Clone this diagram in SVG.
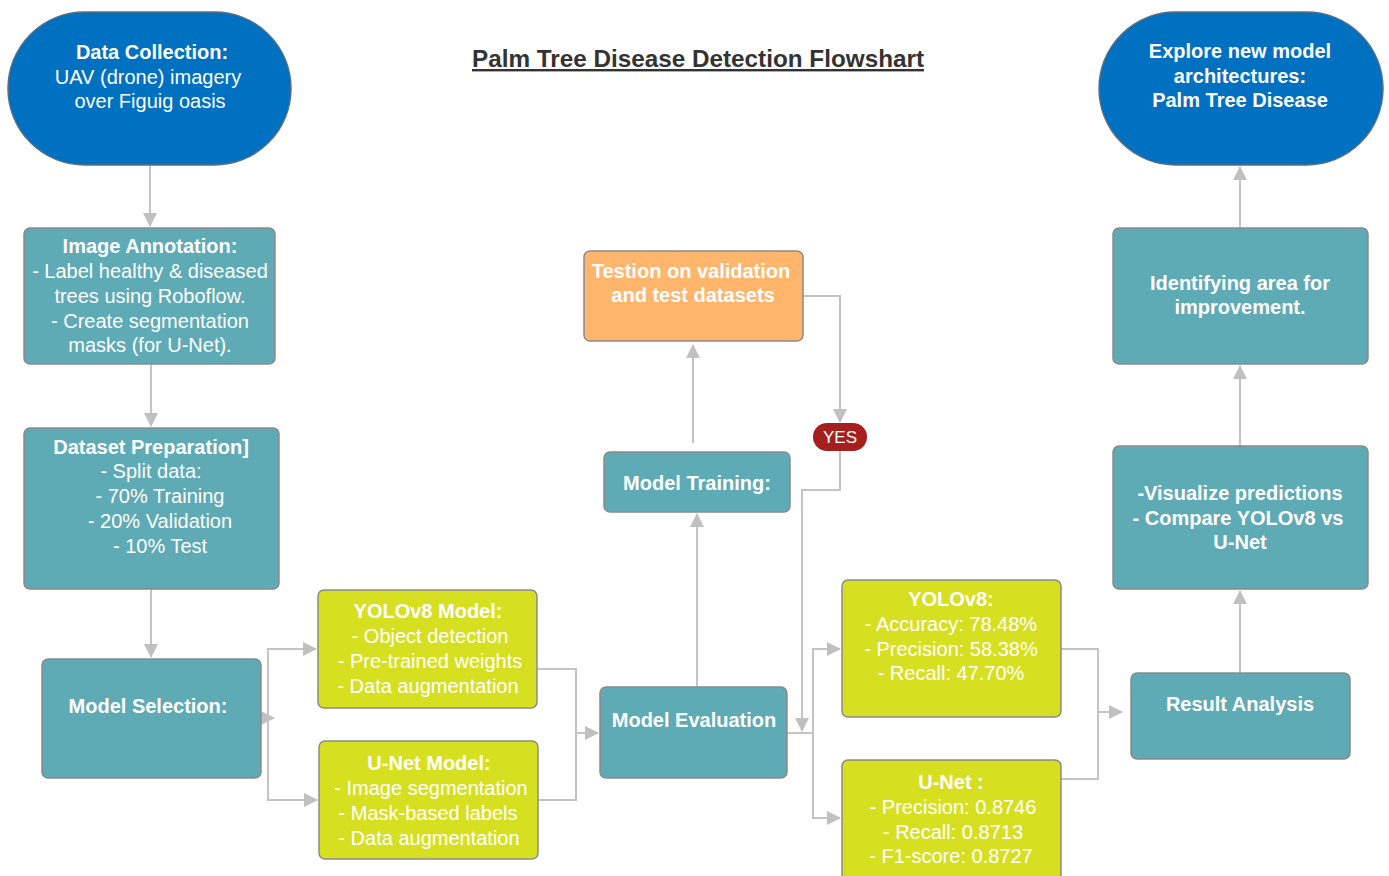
<svg xmlns="http://www.w3.org/2000/svg" width="1389" height="876" viewBox="0 0 1389 876">
<defs>
<marker id="ah" markerWidth="10" markerHeight="10" refX="9" refY="5" orient="auto" markerUnits="userSpaceOnUse" viewBox="0 0 10 10">
<path d="M0,0 L10,5 L0,10 z" fill="#c0c0c0"/>
</marker>
<marker id="ahL" markerWidth="14" markerHeight="14" refX="13" refY="7" orient="auto" markerUnits="userSpaceOnUse" viewBox="0 0 14 14">
<path d="M0,0 L14,7 L0,14 z" fill="#c0c0c0"/>
</marker>
</defs>
<style>
.pill{fill:#0070c0;stroke:#5a6f80;stroke-width:1.5}
.teal{fill:#5eaab5;stroke:#8a8a8a;stroke-width:1.5}
.yel{fill:#d6e021;stroke:#8a8a8a;stroke-width:1.5}
.org{fill:#ffb66c;stroke:#8a8a8a;stroke-width:1.5}
text{font-family:"Liberation Sans",Arial,sans-serif;font-size:20px;fill:#ffffff;text-anchor:middle}
.b{font-weight:bold}
.c{stroke:#c4c4c4;stroke-width:2;fill:none}
.title{fill:#333333;font-size:24px;font-weight:bold;text-decoration:underline}
</style>
<rect width="1389" height="876" fill="#ffffff"/>
<text class="title" x="698" y="67" textLength="452" lengthAdjust="spacingAndGlyphs">Palm Tree Disease Detection Flowshart</text>

<g id="connectors">
<path class="c" d="M150,165 V226" marker-end="url(#ahL)"/>
<path class="c" d="M151,364 V426" marker-end="url(#ahL)"/>
<path class="c" d="M151,589 V657" marker-end="url(#ahL)"/>
<path class="c" d="M261,718 H274" marker-end="url(#ahL)"/>
<path class="c" d="M268,718 V649 H316" marker-end="url(#ahL)"/>
<path class="c" d="M268,718 V800 H317" marker-end="url(#ahL)"/>
<path class="c" d="M537,669 H576 V800 H538"/>
<path class="c" d="M576,733 H598" marker-end="url(#ahL)"/>
<path class="c" d="M697,687 V514" marker-end="url(#ahL)"/>
<path class="c" d="M693,443 V345" marker-end="url(#ahL)"/>
<path class="c" d="M803,296 H840 V422" marker-end="url(#ahL)"/>
<path class="c" d="M840,451 V490 H802 V731" marker-end="url(#ahL)"/>
<path class="c" d="M787,733 H813"/>
<path class="c" d="M813,733 V649 H840" marker-end="url(#ahL)"/>
<path class="c" d="M813,733 V818 H840" marker-end="url(#ahL)"/>
<path class="c" d="M1061,649 H1098 V779 H1061"/>
<path class="c" d="M1098,712 H1122" marker-end="url(#ahL)"/>
<path class="c" d="M1240,673 V591" marker-end="url(#ahL)"/>
<path class="c" d="M1240,446 V366" marker-end="url(#ahL)"/>
<path class="c" d="M1240,228 V167" marker-end="url(#ahL)"/>
</g>

<g id="data-collection">
<rect class="pill" x="8" y="12" width="283" height="153" rx="76.5" ry="76.5"/>
<text class="b" x="152" y="59">Data Collection:</text>
<text x="148" y="84">UAV (drone) imagery</text>
<text x="150" y="108">over Figuig oasis</text>
</g>

<g id="explore">
<rect class="pill" x="1099" y="12" width="284" height="153" rx="76.5" ry="76.5"/>
<text class="b" x="1240" y="58">Explore new model</text>
<text class="b" x="1240" y="83">architectures:</text>
<text class="b" x="1240" y="107">Palm Tree Disease</text>
</g>

<g id="image-annotation">
<rect class="teal" x="24" y="228" width="251" height="136" rx="6"/>
<text class="b" x="150" y="253">Image Annotation:</text>
<text x="150" y="278">- Label healthy &amp; diseased</text>
<text x="150" y="303">trees using Roboflow.</text>
<text x="150" y="328">- Create segmentation</text>
<text x="150" y="352">masks (for U-Net).</text>
</g>

<g id="dataset-preparation">
<rect class="teal" x="24" y="428" width="255" height="161" rx="6"/>
<text class="b" x="151" y="454">Dataset Preparation]</text>
<text x="151" y="478">- Split data:</text>
<text x="160" y="503">- 70% Training</text>
<text x="160" y="528">- 20% Validation</text>
<text x="160" y="553">- 10% Test</text>
</g>

<g id="model-selection">
<rect class="teal" x="42" y="659" width="219" height="119" rx="6"/>
<text class="b" x="148" y="713">Model Selection:</text>
</g>

<g id="yolov8-model">
<rect class="yel" x="318" y="590" width="219" height="118" rx="6"/>
<text class="b" x="428" y="618">YOLOv8 Model:</text>
<text x="430" y="643">- Object detection</text>
<text x="430" y="668">- Pre-trained weights</text>
<text x="428" y="693">- Data augmentation</text>
</g>

<g id="unet-model">
<rect class="yel" x="319" y="741" width="219" height="118" rx="6"/>
<text class="b" x="429" y="770">U-Net Model:</text>
<text x="431" y="795">- Image segmentation</text>
<text x="428" y="820">- Mask-based labels</text>
<text x="429" y="845">- Data augmentation</text>
</g>

<g id="testion">
<rect class="org" x="584" y="251" width="219" height="90" rx="6"/>
<text class="b" x="691" y="278">Testion on validation</text>
<text class="b" x="693" y="302">and test datasets</text>
</g>

<g id="yes">
<rect x="813" y="423" width="54" height="28" rx="14" fill="#a51f1f"/>
<text x="840" y="443" style="font-size:17px">YES</text>
</g>

<g id="model-training">
<rect class="teal" x="604" y="452" width="186" height="60" rx="6"/>
<text class="b" x="697" y="490">Model Training:</text>
</g>

<g id="model-evaluation">
<rect class="teal" x="600" y="687" width="187" height="91" rx="6"/>
<text class="b" x="694" y="727">Model Evaluation</text>
</g>

<g id="yolov8-results">
<rect class="yel" x="842" y="580" width="219" height="137" rx="6"/>
<text class="b" x="951" y="606">YOLOv8:</text>
<text x="951" y="631">- Accuracy: 78.48%</text>
<text x="951" y="656">- Precision: 58.38%</text>
<text x="951" y="680">- Recall: 47.70%</text>
</g>

<g id="unet-results">
<rect class="yel" x="842" y="760" width="219" height="125" rx="6"/>
<text class="b" x="951" y="789">U-Net :</text>
<text x="953" y="814">- Precision: 0.8746</text>
<text x="953" y="839">- Recall: 0.8713</text>
<text x="951" y="863">- F1-score: 0.8727</text>
</g>

<g id="result-analysis">
<rect class="teal" x="1131" y="673" width="219" height="86" rx="6"/>
<text class="b" x="1240" y="711">Result Analysis</text>
</g>

<g id="visualize">
<rect class="teal" x="1113" y="446" width="255" height="143" rx="6"/>
<text class="b" x="1240" y="500">-Visualize predictions</text>
<text class="b" x="1238" y="525">- Compare YOLOv8 vs</text>
<text class="b" x="1240" y="549">U-Net</text>
</g>

<g id="identifying">
<rect class="teal" x="1113" y="228" width="255" height="136" rx="6"/>
<text class="b" x="1240" y="290">Identifying area for</text>
<text class="b" x="1240" y="314">improvement.</text>
</g>
</svg>
